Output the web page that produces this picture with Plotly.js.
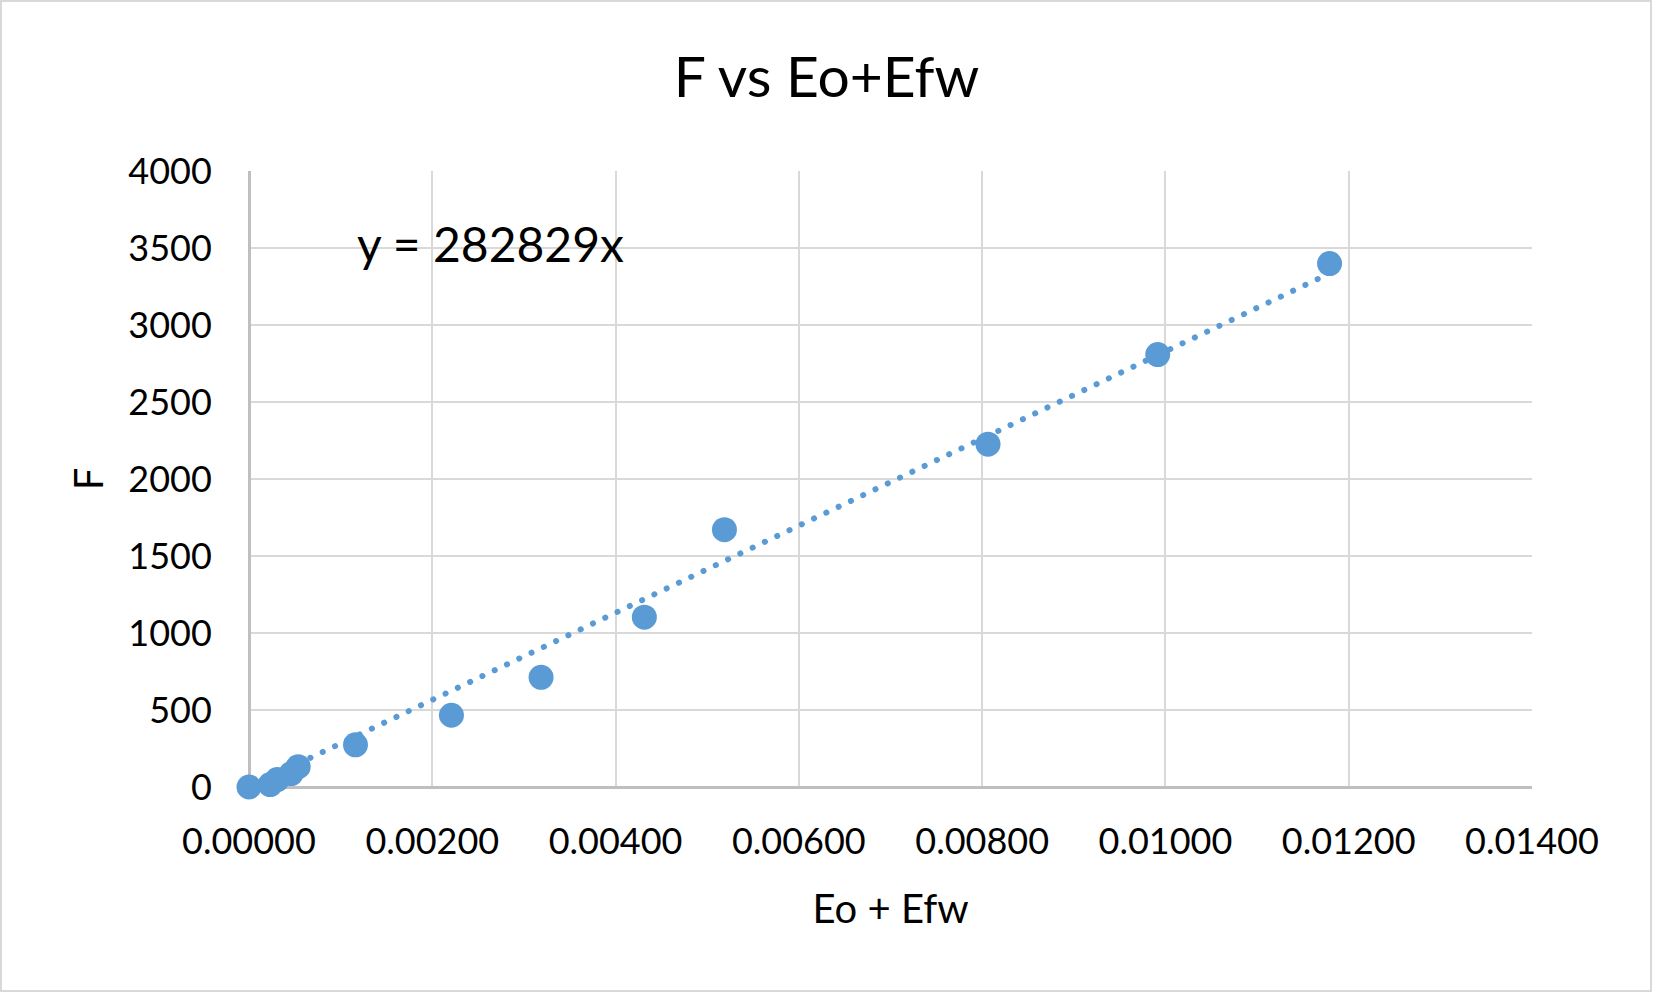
<!DOCTYPE html>
<html>
<head>
<meta charset="utf-8">
<script src="https://cdn.plot.ly/plotly-3.0.1.min.js"></script>
<style>
  html, body { margin: 0; padding: 0; background: #fff; }
  #chart { width: 1653px; height: 993px; }
  .scatterlayer .trace .js-line { stroke-linecap: round; }
</style>
</head>
<body>
<div id="chart"></div>
<script>
// Data
const eoEfw = [0.00000, 0.000231, 0.000308, 0.000460, 0.000537, 0.001162, 0.002209, 0.003187, 0.004314, 0.005188, 0.008064, 0.009916, 0.011791];
const fValues = [0, 16, 48, 87, 132, 274, 466, 712, 1103, 1671, 2226, 2808, 3399];
const trendSlope = 282829;
const xTicks = [0, 0.002, 0.004, 0.006, 0.008, 0.010, 0.012, 0.014];
const yTicks = [0, 500, 1000, 1500, 2000, 2500, 3000, 3500, 4000];
const chartTitle = "F vs Eo+Efw";
const xTitle = "Eo + Efw";
const yTitle = "F";
const equationText = "y = " + trendSlope + "x";

const W = 1653, H = 993;
const M = { l: 249, r: 121, t: 171, b: 206 };
const pw = W - M.l - M.r, ph = H - M.t - M.b;

const xMax = Math.max(...eoEfw);
const trendX = [0, xMax];
const trendY = trendX.map(v => trendSlope * v);

const blue = "#5B9BD5";
const font = "Lato, 'Open Sans', sans-serif";

const traces = [
  {
    x: eoEfw, y: fValues, type: "scatter", mode: "markers",
    marker: { color: blue, size: 25, line: { width: 0 } },
    cliponaxis: false,
    hoverinfo: "x+y", showlegend: false
  },
  {
    x: trendX, y: trendY, type: "scatter", mode: "lines",
    line: { color: blue, width: 6, dash: "0.1px,13.5px" },
    cliponaxis: false,
    hoverinfo: "skip", showlegend: false
  }
];

const layout = {
  width: W, height: H,
  margin: M,
  paper_bgcolor: "#fff", plot_bgcolor: "#fff",
  font: { family: font, color: "#000" },
  showlegend: false,
  title: {
    text: chartTitle, xref: "container", x: 0.5, xanchor: "center",
    yref: "container", y: 1 - 77 / H, yanchor: "middle",
    font: { size: 57, family: font, color: "#000" }
  },
  xaxis: {
    range: [0, 0.014], tickvals: xTicks, tickformat: ".5f",
    showgrid: true, gridcolor: "#D9D9D9", gridwidth: 2,
    zeroline: true, zerolinecolor: "#BFBFBF", zerolinewidth: 3,
    showline: false, ticks: "outside", ticklen: 23, tickcolor: "rgba(0,0,0,0)",
    tickfont: { size: 36, family: font, color: "#000" },
    title: { text: xTitle, font: { size: 40, family: font, color: "#000" }, standoff: 33 },
    automargin: false, fixedrange: true
  },
  yaxis: {
    range: [0, 4000], tickvals: yTicks,
    showgrid: true, gridcolor: "#D9D9D9", gridwidth: 2,
    zeroline: true, zerolinecolor: "#BFBFBF", zerolinewidth: 3,
    showline: false, ticks: "outside", ticklen: 29, tickcolor: "rgba(0,0,0,0)",
    tickfont: { size: 36, family: font, color: "#000" },
    title: { text: yTitle, font: { size: 40, family: font, color: "#000" }, standoff: 12 },
    automargin: false, fixedrange: true
  },
  annotations: [
    {
      text: equationText, xref: "x", yref: "y",
      x: 0.001159, y: 3530, xanchor: "left", yanchor: "middle",
      showarrow: false, font: { size: 48, family: font, color: "#000" }
    }
  ],
  shapes: [
    {
      type: "rect", xref: "paper", yref: "paper",
      x0: (1 - M.l) / pw, x1: (W - 2 - M.l) / pw,
      y0: (ph + M.t - (H - 2)) / ph, y1: (ph + M.t - 1) / ph,
      line: { color: "#D9D9D9", width: 2 }, fillcolor: "rgba(0,0,0,0)", layer: "below"
    }
  ]
};

Plotly.newPlot("chart", traces, layout, { displayModeBar: false, staticPlot: true });
</script>
</body>
</html>
